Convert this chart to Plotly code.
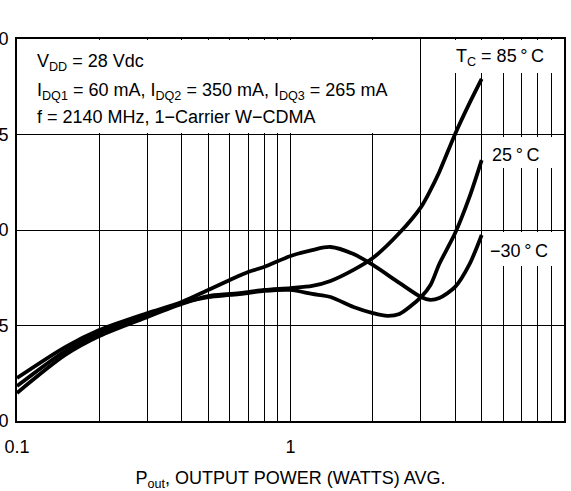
import plotly.graph_objects as go

# Output power (W) sample points
p_low = [0.1, 0.15, 0.2, 0.3, 0.4]
p_85 = p_low + [0.5, 0.6, 0.7, 0.8, 1.0, 1.2, 1.4, 1.7, 2.0, 2.5, 3.0, 3.25, 3.5, 4.0, 4.5, 5.0]
y_85 = [-58.53, -56.54, -55.55, -54.55, -53.87, -53.46, -53.35, -53.25, -53.14, -53.04, -52.93,
        -52.67, -52.09, -51.47, -50.16, -48.80, -47.91, -46.96, -44.97, -43.40, -42.09]

p_25 = p_low + [0.5, 0.6, 0.7, 0.8, 1.0, 1.2, 1.4, 1.7, 2.0, 2.26, 2.5, 3.0, 3.25, 3.5, 4.0, 4.5, 5.0]
y_25 = [-58.17, -56.34, -55.39, -54.45, -53.82, -53.51, -53.40, -53.30, -53.19, -53.14, -53.35,
        -53.51, -54.03, -54.35, -54.50, -54.40, -53.51, -52.88, -51.78, -50.16, -48.32, -46.34]

p_m30 = p_low + [0.5, 0.6, 0.7, 0.8, 1.0, 1.2, 1.4, 1.7, 2.0, 2.5, 3.0, 3.25, 3.5, 4.0, 4.5, 5.0]
y_m30 = [-57.75, -56.13, -55.24, -54.35, -53.77, -53.14, -52.62, -52.20, -51.94, -51.36, -51.05,
         -50.89, -51.26, -51.83, -52.77, -53.51, -53.66, -53.56, -52.98, -51.83, -50.26]

x_tick_vals = [0.1, 1, 10]
x_tick_text = ["0.1", "1", "10"]
x_minor_vals = [0.2, 0.3, 0.4, 0.5, 0.6, 0.7, 0.8, 0.9, 2, 3, 4, 5, 6, 7, 8, 9]
y_tick_vals = [-60, -55, -50, -45, -40]

FONT = "Liberation Sans Narrow, Arial Narrow, Liberation Sans, Arial, sans-serif"
W, H = 571, 491
ML, MR, MT, MB = 17, 7, 39, 70
PW, PH = W - ML - MR, H - MT - MB


def px(x):
    return (x - ML) / PW


def py(y):
    return (H - MB - y) / PH


fig = go.Figure()
for xs, ys in [(p_85, y_85), (p_25, y_25), (p_m30, y_m30)]:
    fig.add_trace(go.Scatter(x=xs, y=ys, mode="lines",
                             line=dict(color="black", width=3.8, shape="spline", smoothing=0.8),
                             showlegend=False, hoverinfo="skip"))

# white boxes behind labels (hide grid)
boxes = [(19, 40, 405, 133), (450, 40, 553, 73), (490, 137, 556, 168), (490, 232, 556, 266)]
for x0, y0, x1, y1 in boxes:
    fig.add_shape(type="rect", xref="paper", yref="paper", x0=px(x0), x1=px(x1), y0=py(y1), y1=py(y0),
                  fillcolor="white", line=dict(width=0), layer="above")

ann = [
    (35, 63, "left", "V<sub>DD</sub> = 28 Vdc"),
    (35, 91, "left", "I<sub>DQ1</sub> = 60 mA, I<sub>DQ2</sub> = 350 mA, I<sub>DQ3</sub> = 265 mA"),
    (35, 117, "left", "f = 2140 MHz, 1\u2212Carrier W\u2212CDMA"),
    (546, 58, "right", "T<sub>C</sub> = 85\u2009\u00b0\u2009C"),
    (541, 155, "right", "25\u2009\u00b0\u2009C"),
    (550, 251, "right", "\u221230\u2009\u00b0\u2009C"),
]
for x, y, al, t in ann:
    fig.add_annotation(xref="paper", yref="paper", x=px(x), y=py(y), xanchor=al, yanchor="middle",
                       text=t, showarrow=False, font=dict(family=FONT, size=18, color="black"))

fig.update_layout(
    width=W, height=H, margin=dict(l=ML, r=MR, t=MT, b=MB, autoexpand=False),
    paper_bgcolor="white", plot_bgcolor="white",
    font=dict(family=FONT, size=18, color="black"),
)
fig.update_xaxes(type="log", range=[-1, 1], tickvals=x_tick_vals, ticktext=x_tick_text,
                 showgrid=True, gridcolor="black", gridwidth=1,
                 minor=dict(tickvals=x_minor_vals, showgrid=True, gridcolor="black", gridwidth=1),
                 showline=True, mirror=True, linecolor="black", linewidth=2,
                 ticks="", ticklabelstandoff=8, automargin=False,
                 title=dict(text="P<sub>out</sub>, OUTPUT POWER (WATTS) AVG.", standoff=26,
                            font=dict(family=FONT, size=18)),
                 zeroline=False)
fig.update_yaxes(range=[-60, -40], tickvals=y_tick_vals,
                 showgrid=True, gridcolor="black", gridwidth=1,
                 showline=True, mirror=True, linecolor="black", linewidth=2,
                 ticks="", ticklabelstandoff=3, automargin=False, zeroline=False)

fig.write_html("out.html", config={"displayModeBar": False},
               post_script="document.body.style.margin='0';")
